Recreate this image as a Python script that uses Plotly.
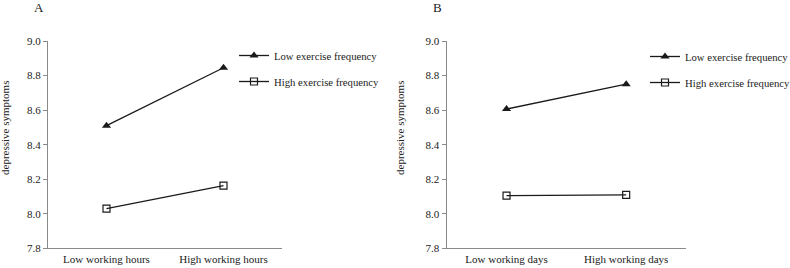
import plotly.graph_objects as go

W, H = 790, 268

cats_a = ["Low working hours", "High working hours"]
cats_b = ["Low working days", "High working days"]
low_ex_a = [8.51, 8.845]
high_ex_a = [8.03, 8.163]
low_ex_b = [8.606, 8.75]
high_ex_b = [8.105, 8.109]
series_names = ["Low exercise frequency", "High exercise frequency"]
y_ticks = [7.8, 8.0, 8.2, 8.4, 8.6, 8.8, 9.0]
y_tick_text = ["7.8", "8.0", "8.2", "8.4", "8.6", "8.8", "9.0"]
y_title = "depressive symptoms"
panel_labels = ["A", "B"]

FONT = "Liberation Serif, Times New Roman, serif"
LINE = "#1a1a1a"
AXIS = "#8a8a8a"

fig = go.Figure()

def add_panel(cats, low, high, xa, ya, legend):
    fig.add_trace(go.Scatter(
        x=cats, y=low, mode="lines+markers", name=series_names[0],
        line=dict(color=LINE, width=1.3),
        marker=dict(symbol="triangle-up", size=8, color=LINE),
        xaxis=xa, yaxis=ya, legend=legend, legendgroup=legend + "a"))
    fig.add_trace(go.Scatter(
        x=cats, y=high, mode="lines+markers", name=series_names[1],
        line=dict(color=LINE, width=1.3),
        marker=dict(symbol="square-open", size=7, color=LINE, line=dict(width=1.2)),
        xaxis=xa, yaxis=ya, legend=legend, legendgroup=legend + "b"))

add_panel(cats_a, low_ex_a, high_ex_a, "x", "y", "legend")
add_panel(cats_b, low_ex_b, high_ex_b, "x2", "y2", "legend2")

y0 = (H - 248.3) / H
y1 = (H - 41) / H

xcommon = dict(type="category", range=[-0.5, 1.5], showline=True, linecolor=AXIS,
               linewidth=1.3, ticks="", showgrid=False, zeroline=False,
               tickfont=dict(family=FONT, size=11, color="#222"), fixedrange=True)
ycommon = dict(range=[7.8, 9.0], tickvals=y_ticks, ticktext=y_tick_text,
               showline=True, linecolor=AXIS, linewidth=1.3, ticks="outside",
               ticklen=4, tickcolor=AXIS, showgrid=False, zeroline=False,
               tickfont=dict(family=FONT, size=11, color="#222"), fixedrange=True)

legcommon = dict(font=dict(family=FONT, size=10.7, color="#222"), bgcolor="rgba(0,0,0,0)",
                 xanchor="left", yanchor="top", tracegroupgap=7, itemwidth=30,
                 traceorder="grouped")

def ann(text, x, y, size, angle=0):
    return dict(text=text, x=x / W, y=(H - y) / H, xref="paper", yref="paper",
                xanchor="center", yanchor="middle", showarrow=False, textangle=angle,
                font=dict(family=FONT, size=size, color="#222"))

fig.update_layout(
    width=W, height=H, margin=dict(l=0, r=0, t=0, b=0, autoexpand=False),
    paper_bgcolor="white", plot_bgcolor="white",
    xaxis=dict(domain=[48 / W, 282 / W], anchor="y", **xcommon),
    yaxis=dict(domain=[y0, y1], anchor="x", **ycommon),
    xaxis2=dict(domain=[446.7 / W, 686 / W], anchor="y2", **xcommon),
    yaxis2=dict(domain=[y0, y1], anchor="x2", **ycommon),
    legend=dict(x=234 / W, y=(H - 41) / H, **legcommon),
    legend2=dict(x=645 / W, y=(H - 42) / H, **legcommon),
    annotations=[
        ann(panel_labels[0], 39, 8, 13),
        ann(panel_labels[1], 438, 8, 13),
        ann(y_title, 5, 128, 11, -90),
        ann(y_title, 400, 128, 11, -90),
    ],
    showlegend=True,
)

fig.write_html("out.html", config={"displayModeBar": False},
               post_script="document.body.style.margin='0';")
